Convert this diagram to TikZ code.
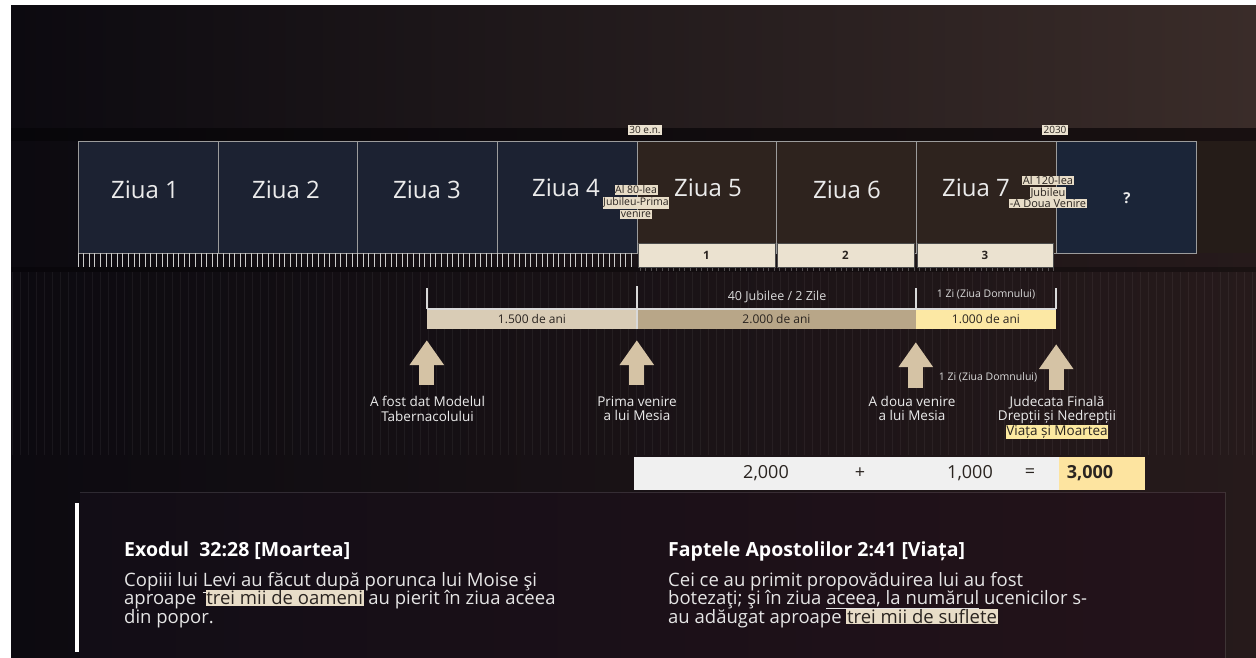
\documentclass[tikz,border=0pt]{standalone}
\usepackage{fontspec}
\setmainfont{Open Sans}
\usetikzlibrary{arrows.meta, positioning, calc}
\definecolor{BgLeft}{HTML}{0C0A10}
\definecolor{BgRight}{HTML}{261A1B}
\definecolor{TopRight}{HTML}{3A2C29}
\definecolor{DayNavy}{HTML}{1C2232}
\definecolor{DayBrown}{HTML}{2E231E}
\definecolor{DayQ}{HTML}{1B2538}
\definecolor{BoxLine}{HTML}{9C9C9C}
\definecolor{Cream}{HTML}{EBE2D0}
\definecolor{BarLight}{HTML}{D9CCB6}
\definecolor{BarTan}{HTML}{B8A688}
\definecolor{BarYellow}{HTML}{FCE8A4}
\definecolor{ArrowTan}{HTML}{D5C3A5}
\definecolor{HlBeige}{HTML}{E8DDC8}
\definecolor{HlYellow}{HTML}{FCE9A0}
\definecolor{TextDark}{HTML}{2A2420}
\definecolor{SumGrey}{HTML}{F0F0F0}
\definecolor{SumYellow}{HTML}{FDE4A0}
\definecolor{PanelLeft}{HTML}{120D16}
\definecolor{PanelRight}{HTML}{24131A}
\newcommand{\marktext}[2][HlBeige]{\begingroup\setlength{\fboxsep}{0.6pt}\colorbox{#1}{\color{TextDark}#2}\endgroup}
\newcommand{\tightlines}{\lineskiplimit=-20pt\lineskip=0pt}

\begin{document}
\begin{tikzpicture}[x=1pt, y=-1pt,
    daybox/.style={rectangle, draw=BoxLine, line width=0.8pt, minimum width=140pt,
      minimum height=112pt, inner sep=0pt},
    daytxt/.style={text=white!92!black, inner sep=0pt, font=\fontsize{24}{26}\selectfont},
    partbar/.style={rectangle, draw=black!70, line width=0.5pt, fill=Cream, minimum height=24pt,
      inner sep=0pt, text=TextDark, font=\fontsize{11.5}{13}\selectfont\bfseries},
    datetag/.style={fill=Cream, inner sep=1.3pt, text=TextDark, font=\fontsize{10}{11}\selectfont},
    jubtag/.style={align=center, inner sep=0pt, font=\fontsize{10.5}{12}\selectfont\tightlines},
    yearbar/.style={rectangle, minimum height=20pt, inner sep=0pt, text=TextDark,
      font=\fontsize{12}{14}\selectfont},
    spanline/.style={draw=white!85!black, line width=1.6pt},
    smalltxt/.style={text=white!85!black, inner sep=0pt, font=\fontsize{10.5}{12}\selectfont},
    evtxt/.style={text=white!92!black, align=center, inner sep=0pt, anchor=north,
      font=\fontsize{13.5}{14.5}\selectfont\tightlines},
    bigarrow/.style={ArrowTan, line width=15pt, -{Triangle[width=33pt,length=25pt]}},
    sumtxt/.style={text=TextDark, inner sep=0pt, font=\fontsize{18}{20}\selectfont},
    reftitle/.style={text=white, anchor=base west, inner sep=0pt,
      font=\fontsize{19.5}{22}\selectfont\bfseries},
    reftxt/.style={text=white!90!black, anchor=north west, align=left, inner sep=0pt,
      font=\fontsize{18.5}{18.5}\selectfont\tightlines},
    tick/.style={draw=white!80!black, line width=0.7pt},
    stripe/.style={draw=white, opacity=0.05, line width=0.6pt}
  ]
    \useasboundingbox (0,0) rectangle (1256,658);
    % background
    \fill[white] (0,0) rectangle (1256,658);
    \fill[left color=BgLeft, right color=BgRight] (11,6) rectangle (1256,658);
    \fill[left color=BgLeft, right color=TopRight] (11,6) rectangle (1256,128);
    \fill[black, opacity=0.35] (11,128) rectangle (1256,141);
    \fill[DayBrown!80!black] (1197,141) rectangle (1256,253);
    \fill[black, opacity=0.3] (11,267) rectangle (1256,272);
    \foreach \x in {12,20,...,1252}
      \draw[stripe] (\x,272) -- (\x,455);
    \fill[left color=PanelLeft, right color=PanelRight] (80,492) rectangle (1225,658);
    \draw[white, opacity=0.12] (80,492) -- (1225,492) -- (1225,658);

    % days
    \node[daybox, fill=DayNavy] (d1) at (148,197) {};
    \node[daybox, fill=DayNavy] (d2) at (288,197) {};
    \node[daybox, fill=DayNavy] (d3) at (427.5,197) {};
    \node[daybox, fill=DayNavy] (d4) at (567,197) {};
    \node[daybox, fill=DayBrown] (d5) at (707,197) {};
    \node[daybox, fill=DayBrown] (d6) at (846.5,197) {};
    \node[daybox, fill=DayBrown] (d7) at (986,197) {};
    \node[daybox, fill=DayQ] (dq) at (1126.5,197) {};

    \node[daytxt] at (145,190) {Ziua 1};
    \node[daytxt] at (286,190) {Ziua 2};
    \node[daytxt] at (427,190) {Ziua 3};
    \node[daytxt] at (566,188) {Ziua 4};
    \node[daytxt] at (708,188) {Ziua 5};
    \node[daytxt] at (847,190) {Ziua 6};
    \node[daytxt] at (976,188) {Ziua 7};
    \node[daytxt, font=\fontsize{15}{16}\selectfont\bfseries] at (1127,198) {?};

    % jubilee ticks
    \foreach \i in {0,...,99}
      \draw[tick] ({78+\i*5.59},253) -- ++(0,14);
    \foreach \i in {0,...,74}
      \draw[tick, opacity=0.35] ({640+\i*5.59},267) -- ++(0,4);

    \node[partbar, minimum width=137pt] (p1) at (706.5,255) {1};
    \node[partbar, minimum width=137pt] (p2) at (845.5,255) {2};
    \node[partbar, minimum width=136pt] (p3) at (985,255) {3};

    \node[datetag] (first) at (645,130) {30 e.n.};
    \node[datetag] (second) at (1055,130) {2030};
    \node[jubtag] (jub80) at (636,202)
      {\marktext{Al 80-lea}\\\marktext{Jubileu-Prima}\\\marktext{venire}};
    \node[jubtag, font=\fontsize{11}{11.5}\selectfont\tightlines] (jub120) at (1048,192)
      {\marktext{Al 120-lea}\\\marktext{Jubileu}\\\marktext{-A\ Doua Venire}};

    % years
    \node[yearbar, fill=BarLight, minimum width=210pt] (y1500) at (532,319) {1.500 de ani};
    \node[yearbar, fill=BarTan, minimum width=279pt] (y2000) at (776.5,319) {2.000 de ani};
    \node[yearbar, fill=BarYellow, minimum width=140pt] (y1000) at (986,319) {1.000 de ani};

    \draw[spanline] (y1500.north west) -- (y1000.north east);
    \draw[spanline] (y1500.north west) -- ++(0,-21);
    \draw[spanline] (y2000.south west) -- ++(0,-43);
    \draw[spanline] (y1000.north west) -- ++(0,-21);
    \draw[spanline] (y1000.north east) -- ++(0,-21);

    \node[smalltxt, font=\fontsize{12.5}{14}\selectfont] (jub40) at (777,297) {40 Jubilee / 2 Zile};
    \node[smalltxt] (lord1) at (986,294) {1 Zi (Ziua Domnului)};
    \node[smalltxt] (lord2) at (988,377) {1 Zi (Ziua Domnului)};

    % events
    \node[evtxt] (ev1) at (427.5,396) {A fost dat Modelul\\Tabernacolului};
    \node[evtxt] (ev2) at (637,396) {Prima venire\\a lui Mesia};
    \node[evtxt] (ev3) at (912,396) {A doua venire\\a lui Mesia};
    \node[evtxt] (ev4) at (1057,396)
      {Judecata Finală\\Drepții și Nedrepții\\\marktext[HlYellow]{Viața și Moartea}};

    \draw[bigarrow] ($(ev1.north -| y1500.south west)+(0,-11)$) -- ($(y1500.south west)+(0,11)$);
    \draw[bigarrow] ($(ev2.north -| y2000.south west)+(0,-11)$) -- ($(y2000.south west)+(0,11)$);
    \draw[bigarrow] ($(ev3.north -| y1000.south west)+(0,-8)$) -- ($(y1000.south west)+(0,13)$);
    \draw[bigarrow] ($(ev4.north -| y1000.south east)+(0,-6)$) -- ($(y1000.south east)+(0,15)$);

    % sum
    \node[rectangle, fill=SumGrey, minimum width=511pt, minimum height=33pt, inner sep=0pt]
      (sum) at (889.5,473.5) {};
    \node[rectangle, fill=SumYellow, minimum width=86pt, minimum height=33pt, inner sep=0pt,
      anchor=east] (sumres) at (sum.east) {};
    \node[sumtxt] (n2000) at (766,473) {2,000};
    \node[sumtxt] (plus) at (860,473) {+};
    \node[sumtxt] (n1000) at (970,473) {1,000};
    \node[sumtxt] (eq) at (1030,473) {=};
    \node[sumtxt, font=\fontsize{18}{20}\selectfont\bfseries] (n3000) at (1090,473) {3,000};

    % verses
    \draw[white, line width=4pt] (77,503) -- (77,652);
    \node[reftitle] (exo) at (124,556) {Exodul\ \ 32:28 [Moartea]};
    \node[reftxt] (exotxt) at (124,572)
      {Copiii lui \underline{Levi au făcut după} porunca lui Moise şi\\
       aproape\ \ \marktext{trei mii de oameni} au pierit în ziua aceea\\
       din popor.};
    \node[reftitle] (fa) at (668,556) {Faptele Apostolilor 2:41 [Viața]};
    \node[reftxt] (fatxt) at (668,572)
      {Cei ce au primit propovăduirea lui au fost\\
       botezaţi; şi în ziua \underline{aceea, la numărul} ucenicilor s-\\
       au adăugat aproape \marktext{trei mii de suflete}};
\end{tikzpicture}
\end{document}
